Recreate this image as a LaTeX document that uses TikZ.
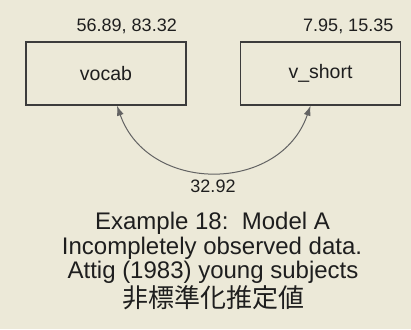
\documentclass[tikz,border=0pt]{standalone}
\usepackage{fontspec}
\setmainfont{Liberation Sans}
\newfontfamily\cjk{Noto Sans CJK JP}
\usetikzlibrary{arrows.meta}
\definecolor{bg}{RGB}{236,233,216}
\definecolor{ink}{RGB}{30,30,30}
\definecolor{edge}{RGB}{60,60,60}
\begin{document}
\begin{tikzpicture}[x=1pt,y=-1pt,
  varbox/.style={draw=edge,line width=1.3pt,minimum width=160pt,minimum height=63pt,inner sep=0pt,
    font=\fontsize{19.5}{21}\selectfont,text=ink},
  lbl/.style={font=\fontsize{18}{20}\selectfont,text=ink,inner sep=0pt},
  ttl/.style={font=\fontsize{24}{26}\selectfont,text=ink,inner sep=0pt,anchor=base},
  cov/.style={draw=edge!80,line width=1pt,{Latex[length=10pt,width=7pt]}-{Latex[length=10pt,width=7pt]}}]
\fill[bg] (0,0) rectangle (411,329);
\useasboundingbox (0,0) rectangle (411,329);
\node[varbox] (vocab) at (106,73.5) {vocab};
\node[varbox] (vshort) at (320.5,73.5) {v\_short};
\node[lbl,anchor=base east] (l1) at (177,32) {56.89, 83.32};
\node[lbl,anchor=base east] (l2) at (393.5,32) {7.95, 15.35};
\coordinate (a1) at ([xshift=11pt]vocab.south);
\coordinate (a2) at ([xshift=-10pt]vshort.south);
\draw[cov] (a1) .. controls (148,194) and (280,194) .. (a2);
\node[lbl,anchor=base] (c) at (213,192.5) {32.92};
\node[ttl] (t1) at (212.5,229.5) {Example 18:\ \ Model A};
\node[ttl] (t2) at (212,254) {Incompletely observed data.};
\node[ttl] (t3) at (213,278.5) {Attig (1983) young subjects};
\node[ttl,font=\cjk\fontsize{26}{28}\selectfont] (t4) at (213,307.5) {非標準化推定値};
\end{tikzpicture}
\end{document}
